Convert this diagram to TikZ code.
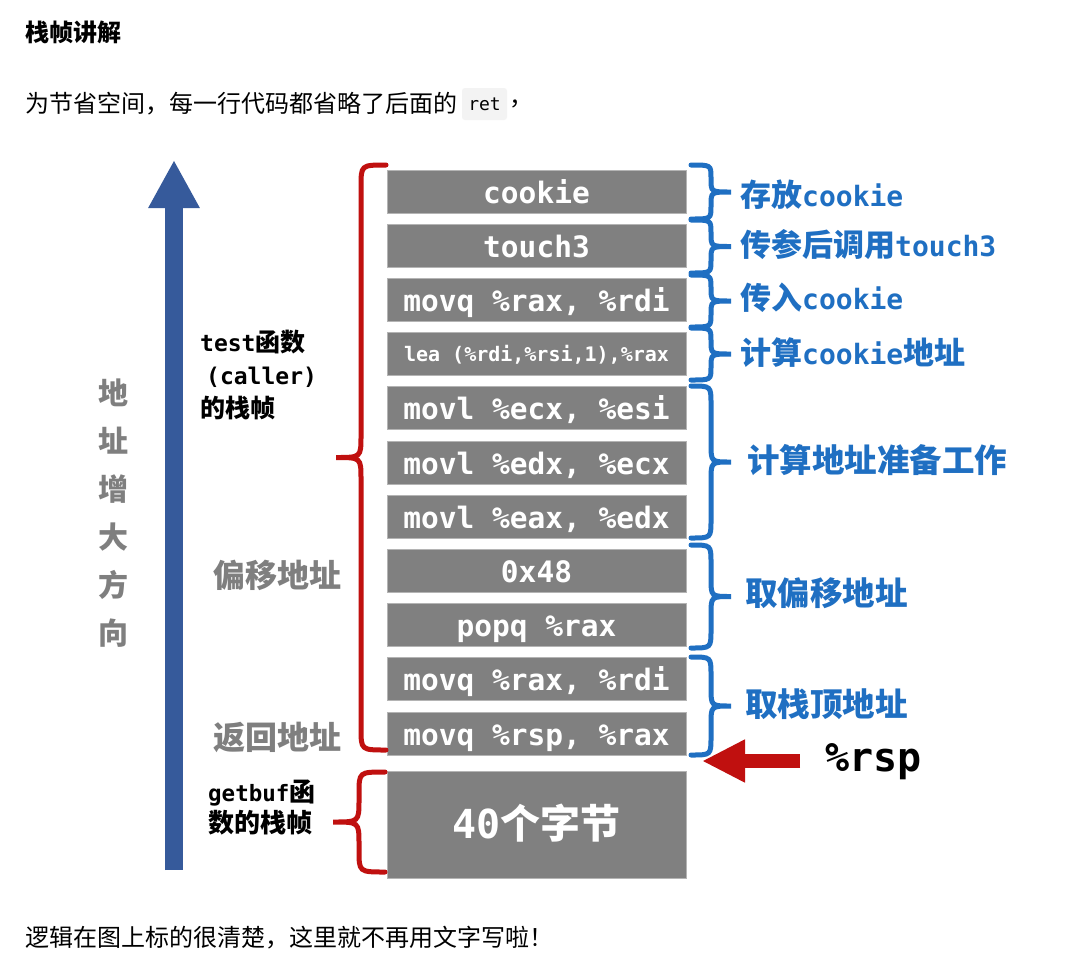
\documentclass[tikz,border=0pt]{standalone}
\usepackage{fontspec}
\setmainfont{Noto Sans CJK SC}
\setmonofont{DejaVu Sans Mono}
\usetikzlibrary{arrows.meta}
\definecolor{boxfill}{HTML}{808080}
\definecolor{boxline}{HTML}{B4B4B4}
\definecolor{bblue}{HTML}{1F6FC2}
\definecolor{ablue}{HTML}{365A9B}
\definecolor{bred}{HTML}{C0100F}
\definecolor{lgray}{HTML}{7F7F7F}
\definecolor{codebg}{HTML}{F3F3F3}
\newcommand\fs[1]{\fontsize{#1}{#1}\selectfont}
\newcommand\lt[1]{{\ttfamily\fs{28}#1}}
% colour, x0, y1, y2, amplitude (signed), curl radius
\newcommand\curlybrace[6]{%
\draw[#1, line width=5pt, line cap=round]
 (#2,#3) .. controls ({#2+0.5*(#5)},#3) .. ({#2+0.5*(#5)},{#3+#6})
 -- ({#2+0.5*(#5)},{(#3+#4)/2-#6})
 .. controls ({#2+0.5*(#5)},{(#3+#4)/2}) .. ({#2+#5},{(#3+#4)/2})
 .. controls ({#2+0.5*(#5)},{(#3+#4)/2}) .. ({#2+0.5*(#5)},{(#3+#4)/2+#6})
 -- ({#2+0.5*(#5)},{#4-#6})
 .. controls ({#2+0.5*(#5)},#4) .. (#2,#4);}
\begin{document}
\begin{tikzpicture}[x=1pt,y=-1pt,
  stackbox/.style={fill=boxfill, draw=boxline, line width=0.8pt, minimum width=299pt,
    minimum height=43pt, inner sep=0pt, text=white, text height=25pt, text depth=2pt,
    font=\ttfamily\bfseries\fs{29.5}},
  bluelabel/.style={anchor=west, inner sep=0pt, text=bblue, font=\bfseries\fs{31}},
  bluelabelbig/.style={bluelabel, font=\bfseries\fs{32.5}},
  graylabel/.style={anchor=west, inner sep=0pt, text=lgray, font=\bfseries\fs{32}},
  plain/.style={anchor=west, inner sep=0pt, text=black}]
\useasboundingbox (0,0) rectangle (1092,978);
\fill[white] (0,0) rectangle (1092,978);

% heading and text
\node[plain, font=\bfseries\fs{24}] (title) at (25,32) {栈帧讲解};
\node[plain, font=\fs{24}] (intro) at (25,104) {为节省空间，每一行代码都省略了后面的};
\node[fill=codebg, rounded corners=3pt, minimum width=45pt, minimum height=32pt, inner sep=0pt,
  font=\ttfamily\fs{18}] (ret) at (484.5,104) {ret};
\node[plain, font=\fs{24}] (comma) at (509,104) {，};
\node[plain, font=\fs{24}] (outro) at (25,938) {逻辑在图上标的很清楚，这里就不再用文字写啦！};

% address direction arrow
\coordinate (upS) at (174,870);
\coordinate (upE) at (174,160);
\draw[ablue, line width=18pt, -{Triangle[length=48pt,width=48pt]}] (upS) -- (upE);
\node[text=lgray, align=center, inner sep=0pt, font=\bfseries\fontsize{30}{48.1}\selectfont]
  (dir) at (113,513) {地\\址\\增\\大\\方\\向};

% stack boxes
\node[stackbox] (b1) at (536.5,191.5) {cookie};
\node[stackbox] (b2) at (536.5,245.7) {touch3};
\node[stackbox] (b3) at (536.5,299.9) {movq \%rax, \%rdi};
\node[stackbox, text height=17pt, text depth=2pt, font=\ttfamily\bfseries\fs{20}] (b4)
  at (536.5,354.1) {lea (\%rdi,\%rsi,1),\%rax};
\node[stackbox] (b5) at (536.5,408.3) {movl \%ecx, \%esi};
\node[stackbox] (b6) at (536.5,462.5) {movl \%edx, \%ecx};
\node[stackbox] (b7) at (536.5,516.7) {movl \%eax, \%edx};
\node[stackbox] (b8) at (536.5,570.9) {0x48};
\node[stackbox] (b9) at (536.5,625.1) {popq \%rax};
\node[stackbox] (b10) at (536.5,679.3) {movq \%rax, \%rdi};
\node[stackbox] (b11) at (536.5,733.5) {movq \%rsp, \%rax};
\node[stackbox, minimum height=107pt, text height=32pt, text depth=5pt, font=\bfseries\fs{40}] (buf)
  at (536.5,824.5) {{\ttfamily 40}个字节};

% left labels
\node[plain, align=left, font=\bfseries\fontsize{25}{33}\selectfont] (caller) at (200,375)
  {{\ttfamily\fs{23}test}函数\\\hspace*{6pt}{\ttfamily\fs{23}(caller)}\\的栈帧};
\node[graylabel] (off) at (213,575) {偏移地址};
\node[graylabel] (retaddr) at (213,737) {返回地址};
\node[plain, align=left, font=\bfseries\fontsize{26}{31}\selectfont] (getbuf) at (208,808)
  {{\ttfamily\fs{22.5}getbuf}函\\数的栈帧};

% red braces
\curlybrace{bred}{386}{165}{750}{-50}{22}
\curlybrace{bred}{385}{772}{872}{-52}{22}

% blue braces
\curlybrace{bblue}{691}{165}{219}{40}{13}
\curlybrace{bblue}{691}{220}{273}{40}{13}
\curlybrace{bblue}{691}{275}{327}{40}{13}
\curlybrace{bblue}{691}{328}{380}{40}{13}
\curlybrace{bblue}{691}{386}{538}{40}{18}
\curlybrace{bblue}{691}{545}{648}{40}{18}
\curlybrace{bblue}{691}{657}{755}{40}{18}

% blue labels
\node[bluelabel] (l1) at (740,195) {存放\lt{cookie}};
\node[bluelabel] (l2) at (740,245) {传参后调用\lt{touch3}};
\node[bluelabel] (l3) at (740,298) {传入\lt{cookie}};
\node[bluelabel] (l4) at (740,353) {计算\lt{cookie}地址};
\node[bluelabelbig] (l5) at (747,460) {计算地址准备工作};
\node[bluelabelbig] (l6) at (745,593) {取偏移地址};
\node[bluelabelbig] (l7) at (745,704) {取栈顶地址};

% %rsp pointer
\node[plain, font=\ttfamily\bfseries\fs{40}] (rsp) at (825,762) {\%rsp};
\coordinate (rspS) at (800,761);
\coordinate (rspE) at (702,761);
\draw[bred, line width=14pt, -{Triangle[length=43pt,width=40pt]}] (rspS) -- (rspE);
\end{tikzpicture}
\end{document}
